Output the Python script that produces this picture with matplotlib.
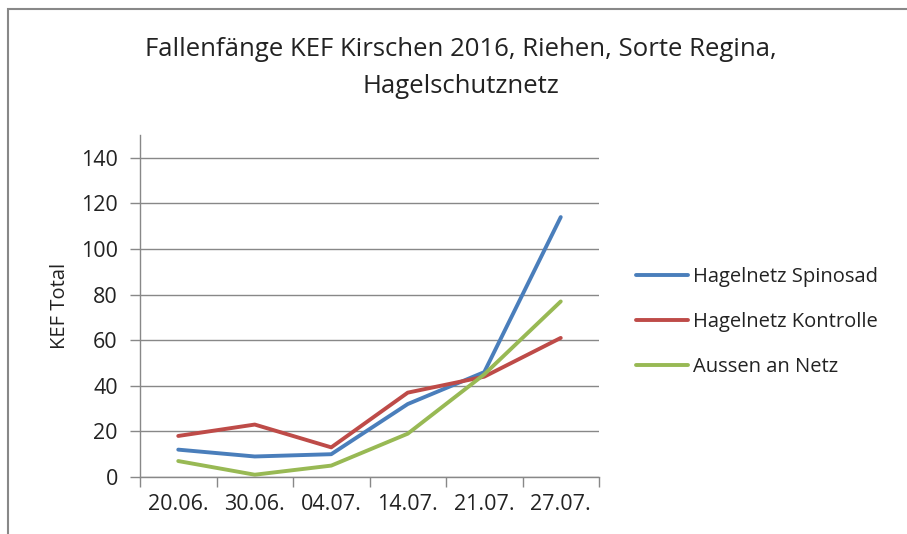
import matplotlib.pyplot as plt
from matplotlib.patches import Rectangle

# Data
dates = ['20.06.', '30.06.', '04.07.', '14.07.', '21.07.', '27.07.']
spinosad = [12, 9, 10, 32, 46, 114]
kontrolle = [18, 23, 13, 37, 44, 61]
aussen = [7, 1, 5, 19, 45, 77]
series_names = ['Hagelnetz Spinosad', 'Hagelnetz Kontrolle', 'Aussen an Netz']
colors = ['#4A7EBB', '#BE4B48', '#98B954']

plt.rcParams['font.family'] = ['Open Sans', 'DejaVu Sans']

fig = plt.figure(figsize=(9.07, 5.34), dpi=100)
W, H = 907, 534
ax = fig.add_axes([140 / W, 1 - 477 / H, (599 - 140) / W, (477 - 135) / H])

x = list(range(len(dates)))
for vals, name, c in zip([spinosad, kontrolle, aussen], series_names, colors):
    ax.plot(x, vals, color=c, lw=2.8, label=name, solid_capstyle='round')

ax.set_xlim(-0.5, len(dates) - 0.5)
ax.set_ylim(0, 150)
ax.set_yticks(range(0, 141, 20))
ax.set_xticks(x)
ax.set_xticklabels(dates, fontsize=15.5, color='#222222')
ax.set_xticks([i - 0.5 for i in range(len(dates) + 1)], minor=True)
ax.tick_params(axis='x', which='major', length=0, pad=12)
ax.tick_params(axis='x', which='minor', length=7, color='#888888', width=1)
ax.tick_params(axis='y', length=7, color='#888888', width=1, labelsize=15.5,
               labelcolor='#222222', pad=9)

ax.grid(axis='y', color='#888888', lw=1)
ax.set_axisbelow(True)
for s in ['top', 'right']:
    ax.spines[s].set_visible(False)
for s in ['left', 'bottom']:
    ax.spines[s].set_color('#888888')
    ax.spines[s].set_linewidth(1)

ax.set_ylabel('KEF Total', fontsize=14.5, color='#222222', labelpad=8)

fig.text(461 / W, 1 - 68 / H, 'Fallenfänge KEF Kirschen 2016, Riehen, Sorte Regina,\nHagelschutznetz',
         ha='center', va='center', fontsize=18.5, color='#222222', linespacing=1.6)

ax.legend(loc='center left', bbox_to_anchor=(618 / W, 1 - 322 / H),
          bbox_transform=fig.transFigure, frameon=False, fontsize=14.5,
          handlelength=2.6, handletextpad=0.2, labelspacing=1.25,
          labelcolor='#222222')

# chart area border (only top and left edges visible in the crop)
fig.patches.append(Rectangle((8 / W, -0.1), 1.2, (1 - 9 / H) + 0.1,
                             transform=fig.transFigure, fill=False,
                             edgecolor='#888888', lw=1.5))

fig.savefig('out.png', dpi=100)
